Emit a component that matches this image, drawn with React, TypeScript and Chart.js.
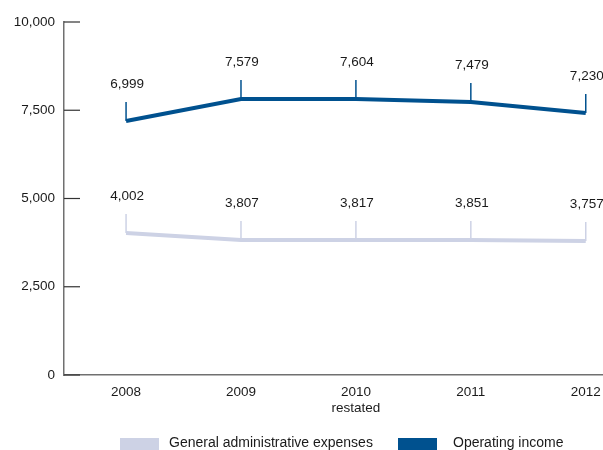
import React, { useEffect, useRef } from "react";
import { Chart, registerables } from "chart.js";

Chart.register(...registerables);

const years = [2008, 2009, 2010, 2011, 2012];
const yearLabels = ["2008", "2009", ["2010", "restated"], "2011", "2012"];
const opIncomePlotted = [7195, 7820, 7818, 7735, 7420];
const opIncomeLabels = ["6,999", "7,579", "7,604", "7,479", "7,230"];
const gaPlotted = [4020, 3825, 3825, 3825, 3795];
const gaLabels = ["4,002", "3,807", "3,817", "3,851", "3,757"];
const yTicks = [0, 2500, 5000, 7500, 10000];
const seriesNames = ["General administrative expenses", "Operating income"];
const seriesColors = ["#cdd2e5", "#00518f"];

const FONT = "'Liberation Sans', Arial, Helvetica, sans-serif";

const annotPlugin = {
  id: "annot",
  afterDatasetsDraw(chart: any) {
    const ctx = chart.ctx;
    const labelSets = [gaLabels, opIncomeLabels];
    chart.data.datasets.forEach((ds: any, di: number) => {
      const meta = chart.getDatasetMeta(di);
      meta.data.forEach((pt: any, i: number) => {
        const x = pt.x;
        const y = pt.y;
        ctx.save();
        ctx.strokeStyle = ds.borderColor;
        ctx.lineWidth = 1.5;
        ctx.beginPath();
        ctx.moveTo(x, y);
        ctx.lineTo(x, y - 19);
        ctx.stroke();
        ctx.fillStyle = "#1a1a1a";
        ctx.font = `13.5px ${FONT}`;
        ctx.textAlign = "center";
        ctx.textBaseline = "middle";
        ctx.fillText(labelSets[di][i], x + 1, y - 37);
        ctx.restore();
      });
    });
  },
  afterDraw(chart: any) {
    const ctx = chart.ctx;
    const yScale = chart.scales.y;
    const left = chart.chartArea.left;
    ctx.save();
    ctx.strokeStyle = "#333";
    ctx.lineWidth = 1.2;
    yScale.ticks.forEach((t: any) => {
      const py = yScale.getPixelForValue(t.value);
      ctx.beginPath();
      ctx.moveTo(left, py);
      ctx.lineTo(left + 16, py);
      ctx.stroke();
    });
    // legend
    const legendX = [120, 398];
    const textGap = [10, 16];
    ctx.font = `14px ${FONT}`;
    ctx.textBaseline = "middle";
    ctx.textAlign = "left";
    seriesNames.forEach((name, i) => {
      ctx.fillStyle = seriesColors[i];
      ctx.fillRect(legendX[i], 438, 39, 13);
      ctx.fillStyle = "#1a1a1a";
      ctx.fillText(name, legendX[i] + 39 + textGap[i], 443);
    });
    ctx.restore();
  },
};

export default function App() {
  const ref = useRef<HTMLCanvasElement>(null);
  useEffect(() => {
    const canvas = ref.current!;
    const chart = new Chart(canvas, {
      type: "line",
      data: {
        datasets: [
          {
            label: seriesNames[0],
            data: years.map((yr, i) => ({ x: yr, y: gaPlotted[i] })),
            borderColor: seriesColors[0],
            backgroundColor: seriesColors[0],
            borderWidth: 4,
            pointRadius: 0,
            tension: 0,
          },
          {
            label: seriesNames[1],
            data: years.map((yr, i) => ({ x: yr, y: opIncomePlotted[i] })),
            borderColor: seriesColors[1],
            backgroundColor: seriesColors[1],
            borderWidth: 4,
            pointRadius: 0,
            tension: 0,
          },
        ],
      },
      options: {
        animation: false,
        responsive: false,
        devicePixelRatio: 1,
        layout: { padding: { top: 22, left: 0, right: 0, bottom: 0 } },
        plugins: {
          legend: { display: false },
          tooltip: { enabled: false },
        },
        scales: {
          x: {
            type: "linear",
            min: 2007.46,
            max: 2012.15,
            grid: { display: false, drawTicks: false },
            border: { display: true, color: "#707070", width: 1.5 },
            afterFit: (s: any) => {
              s.height = 75;
              s.paddingLeft = 0;
              s.paddingRight = 0;
            },
            afterBuildTicks: (s: any) => {
              s.ticks = years.map((v) => ({ value: v }));
            },
            ticks: {
              padding: 9,
              color: "#1a1a1a",
              font: { family: FONT, size: 13.5, lineHeight: 1.2 },
              callback: (v: any) => {
                const idx = years.indexOf(Number(v));
                return idx >= 0 ? (yearLabels[idx] as any) : "";
              },
            },
          },
          y: {
            min: 0,
            max: 10000,
            grid: { display: false, drawTicks: false },
            border: { display: true, color: "#707070", width: 1.5 },
            afterFit: (s: any) => {
              s.width = 64;
              s.paddingTop = 0;
              s.paddingBottom = 0;
            },
            afterBuildTicks: (s: any) => {
              s.ticks = yTicks.map((v) => ({ value: v }));
            },
            ticks: {
              padding: 9,
              color: "#1a1a1a",
              font: { family: FONT, size: 13.5 },
              callback: (v: any) => Number(v).toLocaleString("en-US"),
            },
          },
        },
      },
      plugins: [annotPlugin],
    });
    return () => chart.destroy();
  }, []);
  return (
    <div style={{ position: "absolute", left: 0, top: 0, width: 603, height: 450, background: "#fff" }}>
      <canvas ref={ref} width={603} height={450} style={{ width: 603, height: 450, display: "block" }} />
    </div>
  );
}
